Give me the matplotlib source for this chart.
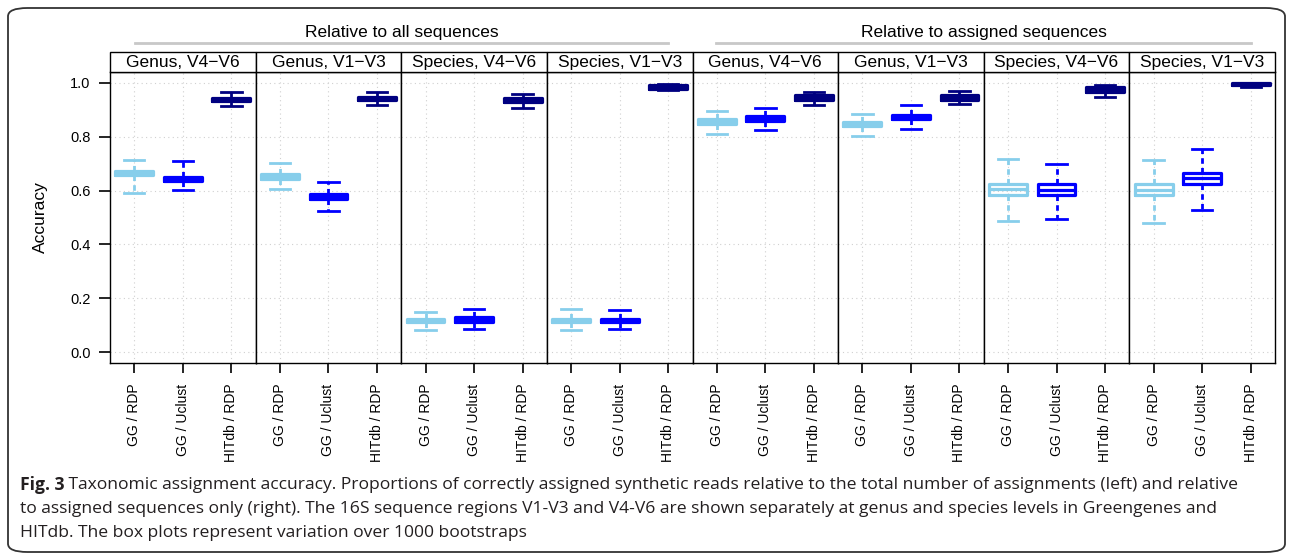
import matplotlib
matplotlib.use("Agg")
import matplotlib.pyplot as plt
from matplotlib.patches import FancyBboxPatch, Rectangle
from matplotlib.lines import Line2D

W, H = 1292, 555

panels = ["Genus, V4\u2212V6", "Genus, V1\u2212V3", "Species, V4\u2212V6", "Species, V1\u2212V3",
          "Genus, V4\u2212V6", "Genus, V1\u2212V3", "Species, V4\u2212V6", "Species, V1\u2212V3"]
methods = ["GG / RDP", "GG / Uclust", "HITdb / RDP"]
groups = ["Relative to all sequences", "Relative to assigned sequences"]
colors = ["#87CEEB", "#0000FF", "#000080"]

# box statistics per panel, per method (GG/RDP, GG/Uclust, HITdb/RDP)
lo = [[.592, .601, .912], [.605, .523, .916], [.083, .087, .907], [.082, .087, .972],
      [.811, .824, .918], [.802, .829, .920], [.488, .496, .948], [.479, .526, .985]]
q1 = [[.658, .634, .933], [.644, .570, .936], [.111, .114, .927], [.111, .111, .978],
      [.847, .860, .937], [.838, .866, .937], [.582, .582, .967], [.582, .624, .990]]
med = [[.665, .643, .939], [.653, .578, .940], [.118, .122, .934], [.118, .118, .985],
       [.855, .867, .945], [.847, .874, .946], [.605, .602, .976], [.603, .646, .995]]
q3 = [[.674, .652, .945], [.662, .587, .947], [.125, .130, .942], [.125, .125, .991],
      [.864, .875, .954], [.855, .882, .954], [.625, .623, .986], [.623, .666, .998]]
hi = [[.714, .711, .965], [.704, .632, .965], [.149, .161, .958], [.160, .156, .996],
      [.895, .907, .965], [.885, .918, .969], [.717, .697, .990], [.714, .755, 1.0]]

yticks = [0.0, 0.2, 0.4, 0.6, 0.8, 1.0]

caption_bold = "Fig. 3"
caption_lines = [
    " Taxonomic assignment accuracy. Proportions of correctly assigned synthetic reads relative to the total number of assignments (left) and relative",
    "to assigned sequences only (right). The 16S sequence regions V1-V3 and V4-V6 are shown separately at genus and species levels in Greengenes and",
    "HITdb. The box plots represent variation over 1000 bootstraps",
]

plt.rcParams["font.family"] = ["Liberation Sans", "DejaVu Sans"]

fig = plt.figure(figsize=(W / 100, H / 100), dpi=100)


def fx(px):
    return px / W


def fy(py):
    return 1 - py / H


# outer rounded frame
frame = FancyBboxPatch((fx(8), fy(552)), fx(1285) - fx(8), fy(8) - fy(552),
                       boxstyle="round,pad=0,rounding_size=0.015",
                       transform=fig.transFigure, fill=False, ec="#333333", lw=1.3)
fig.patches.append(frame)

left, right = 110, 1275
top, bottom = 72, 363
pw = (right - left) / 8

for i in range(8):
    ax = fig.add_axes([fx(left + i * pw), fy(bottom), pw / W, (bottom - top) / H])
    stats = []
    for j in range(3):
        stats.append(dict(med=med[i][j], q1=q1[i][j], q3=q3[i][j],
                          whislo=lo[i][j], whishi=hi[i][j], fliers=[]))
    bp = ax.bxp(stats, positions=[1, 2, 3], widths=0.78, capwidths=0.42,
                showfliers=False, patch_artist=False)
    for j in range(3):
        c = colors[j]
        bp["boxes"][j].set(color=c, lw=2.3, solid_joinstyle="round", solid_capstyle="round")
        bp["medians"][j].set(color=c, lw=2.3, solid_capstyle="butt")
        for k in (2 * j, 2 * j + 1):
            bp["whiskers"][k].set(color=c, lw=2.0, linestyle=(0, (2, 1.5)))
            bp["caps"][k].set(color=c, lw=2.0)
    ax.set_xlim(0.5, 3.5)
    ax.set_ylim(-0.04, 1.04)
    ax.set_xticks([1, 2, 3])
    ax.set_xticklabels(methods, rotation=90, fontsize=10)
    ax.tick_params(axis="x", length=7, width=1.2, pad=8, colors="black")
    ax.set_yticks(yticks)
    if i == 0:
        ax.set_yticklabels([f"{v:.1f}" for v in yticks], fontsize=10.5)
        ax.tick_params(axis="y", length=8, width=1.2, pad=6)
        ax.set_ylabel("Accuracy", fontsize=12.5, labelpad=16)
    else:
        ax.tick_params(axis="y", length=0, labelleft=False)
    ax.grid(True, color="#d0d0d0", linestyle=(0, (1, 3)), lw=0.8)
    ax.set_axisbelow(True)
    for s in ax.spines.values():
        s.set_linewidth(1.0)
        s.set_color("black")

    # strip
    x0 = left + i * pw
    fig.patches.append(Rectangle((fx(x0), fy(top)), pw / W, (top - 52) / H,
                                 transform=fig.transFigure, fc="white", ec="black", lw=1.0))
    fig.text(fx(x0 + pw / 2), fy(62.5), panels[i], ha="center", va="center", fontsize=12.5)

# group headers with grey rules
for g, (x_a, x_b) in enumerate([(135, 668), (716, 1251)]):
    fig.text(fx((x_a + x_b) / 2), fy(32), groups[g], ha="center", va="center", fontsize=12.5)
    fig.add_artist(Line2D([fx(x_a), fx(x_b)], [fy(43), fy(43)], color="#c8c8c8", lw=2,
                          transform=fig.transFigure))

# caption
cap_font = ["Open Sans", "DejaVu Sans"]
cap_size = 12.6
renderer = fig.canvas.get_renderer()
t = fig.text(fx(20), fy(485), caption_bold, fontsize=cap_size, fontweight="bold",
             family=cap_font, color="#231f20", va="center", ha="left")
bb = t.get_window_extent(renderer)
fig.text(bb.x1 / W, fy(485), caption_lines[0], fontsize=cap_size, family=cap_font,
         color="#231f20", va="center", ha="left")
fig.text(fx(20), fy(509), caption_lines[1], fontsize=cap_size, family=cap_font,
         color="#231f20", va="center", ha="left")
fig.text(fx(20), fy(533), caption_lines[2], fontsize=cap_size, family=cap_font,
         color="#231f20", va="center", ha="left")

fig.savefig("out.png", dpi=100)
